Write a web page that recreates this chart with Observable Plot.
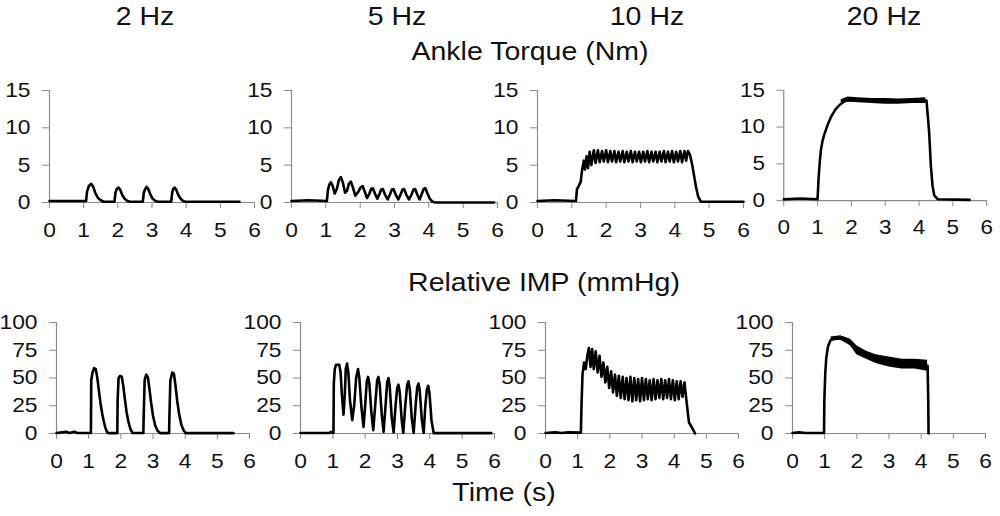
<!DOCTYPE html>
<html>
<head>
<meta charset="utf-8">
<script src="https://cdn.jsdelivr.net/npm/d3@7"></script>
<script src="https://cdn.jsdelivr.net/npm/@observablehq/plot@0.6"></script>
<style>
html, body { margin: 0; padding: 0; background: #fff; }
#wrap { position: relative; width: 1000px; height: 516px; overflow: hidden;
  font-family: "Liberation Sans", Arial, sans-serif; color: #111; }
.lbl { position: absolute; font-size: 25px; line-height: 25px; white-space: nowrap;
  transform: translateX(-50%) scaleX(1.14); }
.panel { position: absolute; }
</style>
</head>
<body>
<div id="wrap"></div>
<script>
// ---------- data ----------
const freqLabels = ["2 Hz", "5 Hz", "10 Hz", "20 Hz"];
const rowTitles = ["Ankle Torque (Nm)", "Relative IMP (mmHg)"];
const xTitle = "Time (s)";
const timeTicks = [0, 1, 2, 3, 4, 5, 6];
const torqueTicks = [0, 5, 10, 15];
const impTicks = [0, 25, 50, 75, 100];

// Ankle torque traces [time s, Nm]
const torque2Hz = [[0,0.2],[1.07,0.2],[1.1,1.5],[1.15,2.2],[1.22,2.5],[1.28,2.1],[1.34,1.3],[1.42,0.6],[1.5,0.3],[1.58,0.1],[1.9,0.1],[1.93,1.3],[1.97,1.8],[2.02,2.0],[2.07,1.7],[2.13,1.0],[2.2,0.5],[2.28,0.2],[2.36,0.1],[2.73,0.1],[2.76,1.3],[2.8,1.8],[2.84,2.1],[2.89,1.8],[2.95,1.1],[3.02,0.5],[3.1,0.2],[3.18,0.1],[3.56,0.1],[3.59,1.3],[3.62,1.8],[3.66,2.0],[3.71,1.7],[3.77,1.0],[3.84,0.5],[3.91,0.2],[3.98,0.1],[5.56,0.1]];
const torque5Hz = [[0,0.2],[0.5,0.3],[1.03,0.2],[1.06,1.6],[1.1,2.4],[1.15,2.7],[1.2,2.2],[1.26,1.2],[1.32,1.8],[1.38,3.0],[1.44,3.4],[1.5,2.6],[1.56,1.3],[1.62,1.6],[1.67,2.5],[1.73,2.8],[1.79,2.0],[1.86,0.9],[1.94,1.4],[2.01,2.0],[2.07,2.2],[2.13,1.5],[2.2,0.6],[2.27,1.2],[2.32,1.8],[2.37,1.9],[2.43,1.2],[2.5,0.5],[2.56,1.1],[2.61,1.7],[2.66,1.8],[2.72,1.1],[2.8,0.4],[2.87,1.1],[2.92,1.7],[2.97,1.8],[3.03,1.1],[3.11,0.4],[3.18,1.1],[3.23,1.7],[3.28,1.8],[3.34,1.1],[3.42,0.4],[3.5,1.1],[3.55,1.7],[3.6,1.8],[3.66,1.1],[3.73,0.4],[3.8,1.2],[3.85,1.8],[3.9,1.9],[3.96,1.2],[4.03,0.5],[4.11,0.1],[4.2,0],[5.9,0]];
const torque10Hz = [[0,0.2],[0.5,0.3],[1.12,0.2],[1.15,1.8],[1.2,2.2],[1.26,2.8],[1.3,4.4],[1.35,5.6],[1.38,4.4],[1.43,6.2],[1.47,4.6],[1.52,6.8],[1.57,5.0],[1.64,7.0],[1.69,5.3],[1.76,7.0],[1.81,5.4],[1.88,6.9],[1.93,5.5],[2.0,7.0],[2.05,5.4],[2.12,6.9],[2.17,5.5],[2.24,6.9],[2.29,5.4],[2.36,6.8],[2.41,5.5],[2.48,6.9],[2.53,5.4],[2.6,6.8],[2.65,5.5],[2.72,6.9],[2.77,5.4],[2.84,6.8],[2.89,5.5],[2.96,6.8],[3.01,5.4],[3.08,6.8],[3.13,5.5],[3.2,6.9],[3.25,5.4],[3.32,6.8],[3.37,5.5],[3.44,6.8],[3.49,5.4],[3.56,6.8],[3.61,5.5],[3.68,6.9],[3.73,5.4],[3.8,6.8],[3.85,5.5],[3.92,6.9],[3.97,5.4],[4.04,6.8],[4.09,5.5],[4.16,6.9],[4.21,5.4],[4.28,6.9],[4.33,5.6],[4.38,6.9],[4.44,6.4],[4.5,5.2],[4.56,3.6],[4.62,2.0],[4.68,0.8],[4.76,0.1],[6,0.1]];
const torque20Hz = [[0,0.2],[0.5,0.3],[1.0,0.2],[1.03,3],[1.07,5.5],[1.1,6.9],[1.15,8.2],[1.2,9.0],[1.29,10.2],[1.4,11.4],[1.53,12.4],[1.65,13.0],[1.8,13.5],[2.0,13.7],[2.5,13.6],[3.0,13.5],[3.5,13.5],[4.0,13.5],[4.22,13.6],[4.26,11.5],[4.3,9.2],[4.35,4.7],[4.4,2.0],[4.45,0.7],[4.55,0.2],[5.5,0.1]];
// noisy plateau of the 20 Hz torque trace [time, low, high]
const torque20HzBand = [[1.7,13.2,13.7],[1.9,13.4,14.1],[2.2,13.3,14.0],[2.6,13.2,13.9],[3.0,13.1,13.9],[3.4,13.1,13.8],[3.8,13.2,13.9],[4.2,13.2,14.0]];

// Relative IMP traces [time s, mmHg]
const imp2Hz = [[0,0.5],[0.3,1.5],[0.4,0.5],[0.55,1.5],[0.65,0.5],[1.07,0.5],[1.08,48],[1.12,55],[1.17,59],[1.22,58],[1.27,50],[1.32,38],[1.37,27],[1.42,18],[1.47,11],[1.52,5],[1.58,1],[1.62,0.3],[1.89,0.3],[1.9,30],[1.93,50],[1.98,52],[2.03,51],[2.08,42],[2.13,30],[2.18,19],[2.24,10],[2.3,4],[2.36,0.5],[2.7,0.5],[2.71,15],[2.74,48],[2.79,53],[2.84,51],[2.89,40],[2.94,28],[3.0,16],[3.07,7],[3.15,2],[3.23,0.3],[3.5,0.3],[3.51,15],[3.54,48],[3.6,55],[3.65,54],[3.7,43],[3.75,30],[3.81,18],[3.88,8],[3.95,3],[4.02,0.3],[5.5,0.3]];
const imp5Hz = [[0,0.5],[0.9,0.5],[0.95,1.5],[1.0,0.5],[1.02,0.5],[1.03,45],[1.06,58],[1.1,62],[1.2,62],[1.24,55],[1.28,35],[1.33,17],[1.37,35],[1.4,58],[1.44,63],[1.48,55],[1.53,30],[1.6,12],[1.66,25],[1.72,50],[1.78,58],[1.82,50],[1.88,25],[1.95,6],[2.0,25],[2.05,47],[2.09,51],[2.13,45],[2.19,20],[2.25,3],[2.31,25],[2.37,48],[2.41,51],[2.45,44],[2.51,18],[2.57,1.5],[2.63,25],[2.68,46],[2.72,50],[2.76,42],[2.82,15],[2.88,1],[2.94,25],[2.99,41],[3.03,44],[3.07,37],[3.13,12],[3.18,0.5],[3.24,25],[3.3,44],[3.34,47],[3.38,40],[3.44,14],[3.5,0.5],[3.56,25],[3.61,42],[3.65,45],[3.69,38],[3.75,13],[3.81,0.5],[3.86,25],[3.91,40],[3.95,43],[3.99,36],[4.05,12],[4.12,0.3],[5.9,0.3]];
const imp10Hz = [[0,0.5],[0.3,1],[0.5,0.5],[0.7,1],[1.1,0.8],[1.12,26],[1.15,53],[1.2,64],[1.25,58],[1.3,70],[1.35,77],[1.4,60],[1.45,76],[1.5,58],[1.56,74],[1.62,55],[1.68,70],[1.74,51],[1.8,64],[1.86,46],[1.92,60],[1.98,41],[2.04,56],[2.1,37],[2.16,53],[2.22,34],[2.28,52],[2.34,32],[2.4,51],[2.46,31],[2.52,50],[2.58,30],[2.64,51],[2.7,29],[2.76,50],[2.82,30],[2.88,49],[2.94,29],[3.0,50],[3.06,30],[3.12,49],[3.18,31],[3.24,48],[3.3,30],[3.36,49],[3.42,31],[3.48,48],[3.54,32],[3.6,49],[3.66,31],[3.72,48],[3.78,32],[3.84,49],[3.9,31],[3.96,48],[4.02,30],[4.08,47],[4.14,31],[4.2,47],[4.26,33],[4.32,46],[4.38,30],[4.42,20],[4.46,10],[4.52,7],[4.58,4],[4.65,0]];
const imp20Hz = [[0,0.5],[0.2,1],[0.4,0.5],[0.98,0.5],[0.99,30],[1.02,55],[1.05,68],[1.1,78],[1.18,84],[1.3,86],[1.5,86.5],[1.7,85],[1.85,80],[2.0,75],[2.3,70],[2.6,67],[3.0,64],[3.4,62],[3.8,62],[4.2,61],[4.22,30],[4.23,0]];
const imp20HzBand = [[1.2,83,87],[1.5,84,88],[1.8,79,85],[2.0,71,79],[2.3,67,74],[2.6,63,71],[3.0,60,69],[3.4,58,67],[3.8,58,67],[4.2,56,66]];

// ---------- layout ----------
const wrap = document.getElementById("wrap");
const AX = "#8a8a8a";
const FONT = '"Liberation Sans", Arial, sans-serif';
const SX = 1.14;

function addLabel(text, cx, top) {
  const d = document.createElement("div");
  d.className = "lbl";
  d.textContent = text;
  d.style.left = cx + "px";
  d.style.top = top + "px";
  wrap.appendChild(d);
}

function stretchText(svg) {
  svg.querySelectorAll('g[aria-label$="tick label"] text').forEach(t => {
    const b = t.getBBox();
    const anchor = getComputedStyle(t).textAnchor;
    const cx = anchor === "end" ? b.x + b.width : anchor === "start" ? b.x : b.x + b.width / 2;
    const orig = t.getAttribute("transform") || "";
    t.setAttribute("transform", `${orig} translate(${cx},0) scale(${SX},1) translate(${-cx},0)`);
  });
}

function makePanel(series, band, yMax, yTicks, box) {
  const mL = 52, mR = 14, mT = 14, mB = 42;
  const w = box.x1 - box.x0 + mL + mR;
  const h = box.yb - box.yt + mT + mB;
  const marks = [
    Plot.ruleY([0], {stroke: AX, strokeWidth: 1.2}),
    Plot.ruleX([0], {stroke: AX, strokeWidth: 1.2}),
    Plot.axisX({ticks: timeTicks, tickSize: 6, tickPadding: 14, fontSize: 20, stroke: AX, fill: "#111", label: null, tickFormat: d => String(d)}),
    Plot.axisY({ticks: yTicks, tickSize: 7, tickPadding: 12, fontSize: 20, stroke: AX, fill: "#111", label: null, tickFormat: d => String(d)})
  ];
  if (band) marks.push(Plot.areaY(band, {x: d => d[0], y1: d => d[1], y2: d => d[2], fill: "#000"}));
  marks.push(Plot.line(series, {x: d => d[0], y: d => d[1], stroke: "#000", strokeWidth: 2.6, strokeLinejoin: "round"}));
  const svg = Plot.plot({
    width: w, height: h,
    marginLeft: mL, marginRight: mR, marginTop: mT, marginBottom: mB,
    x: {domain: [0, 6]},
    y: {domain: [0, yMax]},
    style: {fontFamily: FONT, background: "transparent", overflow: "visible", color: "#111"},
    marks
  });
  const div = document.createElement("div");
  div.className = "panel";
  div.style.left = (box.x0 - mL) + "px";
  div.style.top = (box.yt - mT) + "px";
  div.appendChild(svg);
  wrap.appendChild(div);
  stretchText(svg);
}

const topBoxes = [
  {x0: 49, x1: 254, yt: 90, yb: 202},
  {x0: 291, x1: 497, yt: 90, yb: 202},
  {x0: 537, x1: 743, yt: 90, yb: 202},
  {x0: 784, x1: 990, yt: 90, yb: 202}
];
const botBoxes = [
  {x0: 56, x1: 249, yt: 322, yb: 433},
  {x0: 300, x1: 494, yt: 322, yb: 433},
  {x0: 545, x1: 738, yt: 322, yb: 433},
  {x0: 792, x1: 985, yt: 322, yb: 433}
];

const torqueSeries = [torque2Hz, torque5Hz, torque10Hz, torque20Hz];
const torqueBands = [null, null, null, torque20HzBand];
const impSeries = [imp2Hz, imp5Hz, imp10Hz, imp20Hz];
const impBands = [null, null, null, imp20HzBand];

torqueSeries.forEach((s, i) => makePanel(s, torqueBands[i], 15, torqueTicks, topBoxes[i]));
impSeries.forEach((s, i) => makePanel(s, impBands[i], 100, impTicks, botBoxes[i]));

const headerX = [145, 397, 647, 884];
freqLabels.forEach((f, i) => addLabel(f, headerX[i], 4));
addLabel(rowTitles[0], 530, 39);
addLabel(rowTitles[1], 544, 270);
addLabel(xTitle, 504, 480);
</script>
</body>
</html>
